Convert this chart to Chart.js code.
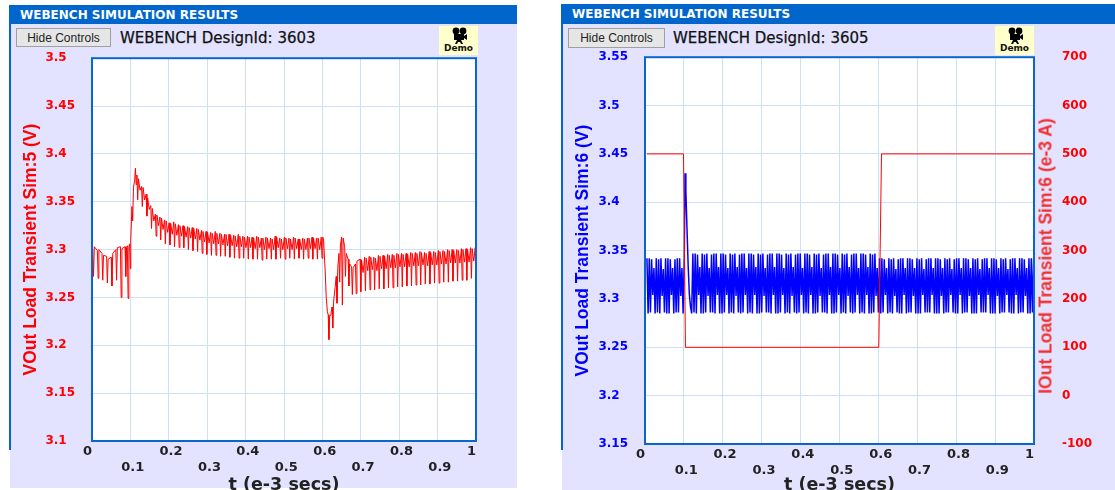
<!DOCTYPE html>
<html>
<head>
<meta charset="utf-8">
<title>WEBENCH simulation results</title>
<script src="https://cdn.jsdelivr.net/npm/chart.js@4"></script>
<style>
html, body { margin: 0; padding: 0; background: #fff; width: 1115px; height: 490px; overflow: hidden; font-family: "DejaVu Sans", sans-serif; }
.panel { position: absolute; top: 24px; height: 464px; background: #e3e3ff; overflow: hidden; }
.edge { position: absolute; top: 5px; height: 445px; width: 2px; background: #0066cc; }
.bar { position: absolute; top: 5px; height: 19px; background: #0066cc; color: #fff; font-size: 12px; font-weight: bold; line-height: 21px; padding-left: 10px; box-sizing: border-box; }
.btn { position: absolute; top: 28px; height: 19px; width: 95px; background: #e6e6e6; border: 1px solid #a0a0a0; box-sizing: border-box; font: 12px/18px "Liberation Sans", sans-serif; text-align: center; color: #222; }
.design { position: absolute; top: 29px; font-size: 15px; line-height: 18px; color: #111; -webkit-text-stroke: 0.25px #111; white-space: nowrap; }
.demo { position: absolute; top: 26px; width: 39px; height: 29px; background: #ffffcc; font-size: 9px; font-weight: bold; color: #111; text-align: center; }
.demo svg { display: block; margin: 1px auto 0; }
.demo span { display: block; line-height: 9px; }
.wrap { position: absolute; clip-path: inset(0 0 36px 0); }
.sideTitle { position: absolute; left: 1046px; top: 256px; color: #f03030; font: bold 17.5px "Liberation Sans", sans-serif; white-space: nowrap; transform: translate(-50%, -50%) rotate(-90deg); }
</style>
</head>
<body>

<div class="panel" style="left:10px;width:507px"></div>
<div class="edge" style="left:9px"></div>
<div class="bar" style="left:10px;width:507px">WEBENCH SIMULATION RESULTS</div>
<div class="btn" style="left:16px">Hide Controls</div>
<div class="design" style="left:120px">WEBENCH DesignId: 3603</div>
<div class="demo" style="left:439px"><svg width="18" height="17" viewBox="0 0 18 17"><circle cx="6" cy="4" r="3.4"/><circle cx="13" cy="4" r="3.4"/><rect x="4" y="7" width="10" height="6"/><path d="M14 9l3-2v6l-3-2zM7 13h4l2 4h-2l-1-2H8l-1 2H5z"/></svg><span>Demo</span></div>
<div class="wrap" style="left:10px;top:34px;height:492px;width:507px"><canvas id="chartA"></canvas></div>

<div class="panel" style="left:562px;width:553px;height:466px"></div>
<div class="edge" style="left:561px;top:4px;height:446px"></div>
<div class="bar" style="left:562px;width:553px;top:4px;height:20px">WEBENCH SIMULATION RESULTS</div>
<div class="btn" style="left:568px;width:97px;height:20px">Hide Controls</div>
<div class="design" style="left:673px">WEBENCH DesignId: 3605</div>
<div class="demo" style="left:995px"><svg width="18" height="17" viewBox="0 0 18 17"><circle cx="6" cy="4" r="3.4"/><circle cx="13" cy="4" r="3.4"/><rect x="4" y="7" width="10" height="6"/><path d="M14 9l3-2v6l-3-2zM7 13h4l2 4h-2l-1-2H8l-1 2H5z"/></svg><span>Demo</span></div>
<div class="wrap" style="left:562px;top:22px;height:504px;width:553px"><canvas id="chartB"></canvas></div>
<div class="sideTitle">IOut Load Transient Sim:6 (e-3 A)</div>

<script>
const xTickLabels = ['0', '0.1', '0.2', '0.3', '0.4', '0.5', '0.6', '0.7', '0.8', '0.9', '1'];

// design 3603, VOut
const timeA = [
  .002, .004, .006, .014, .016, .018, .026, .028, .030, .038, .040, .042,
  .050, .052, .054, .062, .064, .066, .074, .076, .078, .086, .088, .090,
  .092, .094, .096, .098, .100, .101, .104, .106, .108, .111, .113, .115,
  .117, .119, .121, .125,
  .129, .131, .133, .137,
  .141, .143, .145, .149,
  .153, .155, .157, .161,
  .165, .167, .169, .173,
  .177, .179, .181, .185,
  .189, .191, .193, .197,
  .201, .203, .205, .209,
  .213, .215, .217, .221,
  .225, .227, .229, .233,
  .237, .239, .241, .245,
  .249, .251, .253, .257,
  .261, .263, .265, .269,
  .273, .275, .277, .281,
  .285, .287, .289, .293,
  .297, .299, .301, .305,
  .309, .311, .313, .317,
  .321, .323, .325, .329,
  .333, .335, .337, .341,
  .345, .347, .349, .353,
  .357, .359, .361, .365,
  .369, .371, .373, .377,
  .381, .383, .385, .389,
  .393, .395, .397, .401,
  .405, .407, .409, .413,
  .417, .419, .421, .425,
  .429, .431, .433, .437,
  .441, .443, .445, .449,
  .453, .455, .457, .461,
  .465, .467, .469, .473,
  .477, .479, .481, .485,
  .489, .491, .493, .497,
  .501, .503, .505, .509,
  .513, .515, .517, .521,
  .525, .527, .529, .533,
  .537, .539, .541, .545,
  .549, .551, .553, .557,
  .561, .563, .565, .569,
  .573, .575, .577, .581,
  .585, .587, .589, .593,
  .597, .599, .601,
  .603, .607, .610, .613, .615, .617, .619, .622, .625, .627, .629, .633,
  .636, .638, .640, .643, .645, .647, .650, .652, .654, .658, .660, .662,
  .667, .669, .671, .676, .678, .680, .686, .688, .690,
  .698, .700, .702, .706,
  .710, .712, .714, .718,
  .722, .724, .726, .730,
  .734, .736, .738, .742,
  .746, .748, .750, .754,
  .758, .760, .762, .766,
  .770, .772, .774, .778,
  .782, .784, .786, .790,
  .794, .796, .798, .802,
  .806, .808, .810, .814,
  .818, .820, .822, .826,
  .830, .832, .834, .838,
  .842, .844, .846, .850,
  .854, .856, .858, .862,
  .866, .868, .870, .874,
  .878, .880, .882, .886,
  .890, .892, .894, .898,
  .902, .904, .906, .910,
  .914, .916, .918, .922,
  .926, .928, .930, .934,
  .938, .940, .942, .946,
  .950, .952, .954, .958,
  .962, .964, .966, .970,
  .974, .976, .978, .982,
  .986, .988, .990, .994,
  .998, .999, 1
];
const voutA = [
  3.3, 3.272, 3.303, 3.299, 3.27, 3.3, 3.296, 3.268, 3.294, 3.293, 3.265, 3.29,
  3.292, 3.262, 3.296, 3.3, 3.268, 3.302, 3.303, 3.25, 3.301, 3.303, 3.272, 3.302,
  3.304, 3.249, 3.303, 3.306, 3.28, 3.31, 3.345, 3.33, 3.365, 3.372, 3.385, 3.368,
  3.378, 3.352, 3.374, 3.362,
  3.366, 3.345, 3.365, 3.352,
  3.358, 3.335, 3.354, 3.342,
  3.346, 3.322, 3.343, 3.33,
  3.337, 3.314, 3.336, 3.325,
  3.334, 3.31, 3.333, 3.321,
  3.331, 3.306, 3.33, 3.318,
  3.328, 3.305, 3.327, 3.316,
  3.329, 3.303, 3.327, 3.315,
  3.326, 3.302, 3.325, 3.314,
  3.325, 3.302, 3.324, 3.313,
  3.324, 3.3, 3.323, 3.312,
  3.323, 3.299, 3.322, 3.311,
  3.322, 3.298, 3.321, 3.31,
  3.32, 3.296, 3.319, 3.308,
  3.319, 3.295, 3.318, 3.307,
  3.318, 3.294, 3.317, 3.306,
  3.319, 3.294, 3.317, 3.306,
  3.317, 3.293, 3.316, 3.305,
  3.316, 3.293, 3.316, 3.304,
  3.316, 3.292, 3.315, 3.304,
  3.315, 3.291, 3.314, 3.303,
  3.316, 3.291, 3.314, 3.303,
  3.314, 3.291, 3.313, 3.302,
  3.314, 3.29, 3.313, 3.302,
  3.313, 3.29, 3.312, 3.301,
  3.314, 3.29, 3.313, 3.302,
  3.312, 3.289, 3.312, 3.3,
  3.313, 3.29, 3.312, 3.301,
  3.312, 3.29, 3.311, 3.3,
  3.314, 3.29, 3.313, 3.302,
  3.312, 3.291, 3.311, 3.3,
  3.313, 3.29, 3.312, 3.301,
  3.312, 3.291, 3.311, 3.3,
  3.313, 3.29, 3.312, 3.301,
  3.311, 3.291, 3.311, 3.3,
  3.312, 3.29, 3.311, 3.3,
  3.312, 3.291, 3.312, 3.301,
  3.313, 3.29, 3.312, 3.301,
  3.312, 3.29, 3.312, 3.3,
  3.313, 3.291, 3.313,
  3.31, 3.28, 3.25, 3.235, 3.232, 3.206, 3.23, 3.232, 3.24, 3.218, 3.245, 3.26,
  3.272, 3.244, 3.28, 3.296, 3.266, 3.305, 3.313, 3.242, 3.312, 3.303, 3.272, 3.296,
  3.29, 3.262, 3.285, 3.282, 3.253, 3.281, 3.285, 3.254, 3.288,
  3.29, 3.256, 3.289, 3.276,
  3.292, 3.257, 3.291, 3.278,
  3.293, 3.258, 3.292, 3.279,
  3.292, 3.258, 3.291, 3.278,
  3.294, 3.259, 3.293, 3.28,
  3.294, 3.259, 3.293, 3.28,
  3.295, 3.26, 3.294, 3.281,
  3.295, 3.26, 3.294, 3.281,
  3.296, 3.261, 3.295, 3.282,
  3.296, 3.261, 3.295, 3.282,
  3.296, 3.262, 3.295, 3.282,
  3.297, 3.262, 3.296, 3.283,
  3.297, 3.263, 3.296, 3.283,
  3.298, 3.263, 3.297, 3.284,
  3.297, 3.264, 3.296, 3.283,
  3.298, 3.264, 3.297, 3.284,
  3.298, 3.265, 3.297, 3.284,
  3.299, 3.265, 3.298, 3.285,
  3.299, 3.266, 3.298, 3.285,
  3.3, 3.266, 3.299, 3.286,
  3.3, 3.267, 3.299, 3.286,
  3.3, 3.267, 3.299, 3.286,
  3.301, 3.268, 3.3, 3.287,
  3.301, 3.268, 3.3, 3.287,
  3.302, 3.27, 3.301, 3.288,
  3.302, 3.27, 3.302
];

// design 3605, VOut and IOut
const timeB = [
  .005, .008, .011, .014, .017, .020, .023, .026,
  .029, .032, .035, .038, .041, .044, .047, .050,
  .053, .056, .059, .062, .065, .068, .071, .074,
  .077, .080, .083, .086, .089, .092, .095, .098,
  .101,
  .103, .105, .108, .111, .114, .117, .120,
  .123, .126, .129, .132, .135, .138, .141, .144,
  .147, .150, .153, .156, .159, .162, .165, .168,
  .171, .174, .177, .180, .183, .186, .189, .192,
  .195, .198, .201, .204, .207, .210, .213, .216,
  .219, .222, .225, .228, .231, .234, .237, .240,
  .243, .246, .249, .252, .255, .258, .261, .264,
  .267, .270, .273, .276, .279, .282, .285, .288,
  .291, .294, .297, .300, .303, .306, .309, .312,
  .315, .318, .321, .324, .327, .330, .333, .336,
  .339, .342, .345, .348, .351, .354, .357, .360,
  .363, .366, .369, .372, .375, .378, .381, .384,
  .387, .390, .393, .396, .399, .402, .405, .408,
  .411, .414, .417, .420, .423, .426, .429, .432,
  .435, .438, .441, .444, .447, .450, .453, .456,
  .459, .462, .465, .468, .471, .474, .477, .480,
  .483, .486, .489, .492, .495, .498, .501, .504,
  .507, .510, .513, .516, .519, .522, .525, .528,
  .531, .534, .537, .540, .543, .546, .549, .552,
  .555, .558, .561, .564, .567, .570, .573, .576,
  .579, .582, .585, .588, .591, .594, .597, .600,
  .603, .606, .609, .612, .615, .618, .621, .624,
  .627, .630, .633, .636, .639, .642, .645, .648,
  .651, .654, .657, .660, .663, .666, .669, .672,
  .675, .678, .681, .684, .687, .690, .693, .696,
  .699, .702, .705, .708, .711, .714, .717, .720,
  .723, .726, .729, .732, .735, .738, .741, .744,
  .747, .750, .753, .756, .759, .762, .765, .768,
  .771, .774, .777, .780, .783, .786, .789, .792,
  .795, .798, .801, .804, .807, .810, .813, .816,
  .819, .822, .825, .828, .831, .834, .837, .840,
  .843, .846, .849, .852, .855, .858, .861, .864,
  .867, .870, .873, .876, .879, .882, .885, .888,
  .891, .894, .897, .900, .903, .906, .909, .912,
  .915, .918, .921, .924, .927, .930, .933, .936,
  .939, .942, .945, .948, .951, .954, .957, .960,
  .963, .966, .969, .972, .975, .978, .981, .984,
  .987, .990, .993, .996, .999, 1
];
const voutB = [
  3.342, 3.285, 3.342, 3.286, 3.341, 3.304, 3.332, 3.285,
  3.342, 3.286, 3.341, 3.285, 3.342, 3.303, 3.331, 3.286,
  3.342, 3.285, 3.342, 3.285, 3.341, 3.304, 3.332, 3.285,
  3.341, 3.286, 3.342, 3.286, 3.342, 3.303, 3.332, 3.285,
  3.342,
  3.43, 3.412, 3.372, 3.334, 3.305, 3.292, 3.285,
  3.347, 3.286, 3.347, 3.285, 3.346, 3.304, 3.333, 3.285,
  3.347, 3.285, 3.346, 3.286, 3.347, 3.303, 3.332, 3.286,
  3.346, 3.286, 3.347, 3.285, 3.347, 3.304, 3.333, 3.285,
  3.347, 3.285, 3.347, 3.286, 3.346, 3.304, 3.332, 3.285,
  3.347, 3.286, 3.346, 3.285, 3.347, 3.303, 3.333, 3.286,
  3.346, 3.285, 3.347, 3.286, 3.347, 3.304, 3.332, 3.285,
  3.347, 3.286, 3.347, 3.285, 3.346, 3.304, 3.333, 3.285,
  3.347, 3.285, 3.346, 3.286, 3.347, 3.303, 3.332, 3.286,
  3.346, 3.286, 3.347, 3.285, 3.347, 3.304, 3.333, 3.285,
  3.347, 3.285, 3.347, 3.286, 3.346, 3.304, 3.332, 3.285,
  3.347, 3.286, 3.346, 3.285, 3.347, 3.303, 3.333, 3.286,
  3.346, 3.285, 3.347, 3.286, 3.347, 3.304, 3.332, 3.285,
  3.347, 3.286, 3.347, 3.285, 3.346, 3.304, 3.333, 3.285,
  3.347, 3.285, 3.346, 3.286, 3.347, 3.303, 3.332, 3.286,
  3.346, 3.286, 3.347, 3.285, 3.347, 3.304, 3.333, 3.285,
  3.347, 3.285, 3.347, 3.286, 3.346, 3.304, 3.332, 3.285,
  3.347, 3.286, 3.346, 3.285, 3.347, 3.303, 3.333, 3.286,
  3.346, 3.285, 3.347, 3.286, 3.347, 3.304, 3.332, 3.285,
  3.347, 3.286, 3.347, 3.285, 3.346, 3.304, 3.333, 3.285,
  3.347, 3.285, 3.346, 3.286, 3.347, 3.303, 3.332, 3.286,
  3.342, 3.285, 3.342, 3.286, 3.341, 3.304, 3.332, 3.285,
  3.342, 3.286, 3.341, 3.285, 3.342, 3.303, 3.331, 3.286,
  3.341, 3.285, 3.342, 3.285, 3.342, 3.304, 3.332, 3.285,
  3.342, 3.286, 3.342, 3.286, 3.341, 3.303, 3.332, 3.285,
  3.342, 3.285, 3.341, 3.285, 3.342, 3.304, 3.331, 3.286,
  3.341, 3.286, 3.342, 3.286, 3.342, 3.304, 3.332, 3.285,
  3.342, 3.285, 3.342, 3.285, 3.341, 3.303, 3.332, 3.285,
  3.342, 3.286, 3.341, 3.286, 3.342, 3.304, 3.331, 3.286,
  3.341, 3.285, 3.342, 3.285, 3.342, 3.304, 3.332, 3.285,
  3.342, 3.286, 3.342, 3.286, 3.341, 3.303, 3.332, 3.285,
  3.342, 3.285, 3.341, 3.285, 3.342, 3.304, 3.331, 3.286,
  3.341, 3.286, 3.342, 3.286, 3.342, 3.304, 3.332, 3.285,
  3.342, 3.285, 3.342, 3.285, 3.341, 3.303, 3.332, 3.285,
  3.342, 3.286, 3.341, 3.286, 3.342, 3.304, 3.331, 3.286,
  3.341, 3.285, 3.342, 3.285, 3.342, 3.304, 3.332, 3.285,
  3.342, 3.286, 3.342, 3.286, 3.341, 3.303, 3.332, 3.285,
  3.342, 3.285, 3.342, 3.286, 3.342, 3.304
];
const timeI = [.005, .099, .104, .601, .608, 1];
const ioutB = [500, 500, 100, 100, 500, 500];

const RED = '#ff0000';
const BLUE = '#0000ff';
const GRID = '#cfe0f6';
const FRAME = '#0a66cc';
const tickFont = { family: 'DejaVu Sans', size: 12, weight: 'bold' };
const titleFont = { family: 'Liberation Sans', size: 17.5, weight: 'bold' };

const pts = (xs, ys) => xs.map((x, i) => ({ x: x, y: ys[i] }));

// white plot background and the blue frame round it
const plotFrame = {
  id: 'plotFrame',
  beforeDraw(chart) {
    const a = chart.chartArea, c = chart.ctx;
    c.save();
    c.fillStyle = '#fff';
    c.fillRect(a.left, a.top, a.width, a.height);
    c.restore();
  },
  afterDraw(chart) {
    const a = chart.chartArea, c = chart.ctx;
    c.save();
    c.strokeStyle = FRAME;
    c.lineWidth = 2;
    c.strokeRect(a.left, a.top, a.width, a.height);
    c.restore();
  }
};

// x labels sit on two rows, odd tenths on the lower one
function xScale(height) {
  return {
    type: 'linear', min: 0, max: 1,
    afterFit(s) { s.height = height; },
    grid: { color: GRID, drawTicks: false },
    border: { display: false },
    ticks: {
      stepSize: 0.1, autoSkip: false, maxRotation: 0, padding: 3, color: '#222',
      font: { family: 'DejaVu Sans', size: 13, weight: 'bold' },
      callback(v, i) {
        const t = xTickLabels[i];
        if (i === 0 || i === 10) return t + '\u00a0\u00a0';
        return i % 2 ? ['', '\u00a0' + t] : '\u00a0' + t;
      }
    },
    title: { display: true, text: 't (e-3 secs)', color: '#222', font: { family: 'DejaVu Sans', size: 17.5, weight: 'bold' }, padding: { top: 0, bottom: 30 } }
  };
}

function vScale(width, min, max, color, title, labelPad) {
  return {
    type: 'linear', position: 'left', min: min, max: max,
    afterFit(s) { s.width = width; },
    grid: { color: GRID, drawTicks: false },
    border: { display: false },
    ticks: {
      stepSize: 0.05, padding: labelPad, color: color, font: tickFont,
      // figure space keeps the short labels flush left, as in the original
      callback(v) { const s = String(+v.toFixed(2)); return s.length < 4 ? s + '\u2007' : s; }
    },
    title: { display: true, text: title, color: color, font: titleFont, padding: { top: 11, bottom: 0 } }
  };
}

Chart.defaults.animation = false;

new Chart(document.getElementById('chartA'), {
  type: 'line',
  data: { datasets: [{ label: 'VOut', data: pts(timeA, voutA), borderColor: RED, borderWidth: 1, pointRadius: 0, tension: 0 }] },
  options: {
    responsive: true, maintainAspectRatio: false,
    layout: { autoPadding: false, padding: { left: 0, right: 41, top: 0, bottom: 0 } },
    plugins: { legend: { display: false }, tooltip: { enabled: false } },
    scales: { x: xScale(85), y: vScale(82, 3.1, 3.5, RED, 'VOut Load Transient Sim:5 (V)', 17) }
  },
  plugins: [plotFrame]
});

new Chart(document.getElementById('chartB'), {
  type: 'line',
  data: {
    datasets: [
      { label: 'VOut', data: pts(timeB, voutB), borderColor: BLUE, borderWidth: 1.5, pointRadius: 0, tension: 0, yAxisID: 'y', order: 2 },
      { label: 'IOut', data: pts(timeI, ioutB), borderColor: RED, borderWidth: 1, pointRadius: 0, tension: 0, yAxisID: 'y1', order: 1 }
    ]
  },
  options: {
    responsive: true, maintainAspectRatio: false,
    layout: { autoPadding: false, padding: { left: 0, right: 0, top: 0, bottom: 0 } },
    plugins: { legend: { display: false }, tooltip: { enabled: false } },
    scales: {
      x: xScale(82),
      y: vScale(83, 3.15, 3.55, BLUE, 'VOut Load Transient Sim:6 (V)', 17),
      y1: {
        type: 'linear', position: 'right', min: -100, max: 700,
        afterFit(s) { s.width = 81; },
        grid: { drawOnChartArea: false, drawTicks: false },
        border: { display: false },
        ticks: { stepSize: 100, padding: 28, color: RED, font: tickFont }
      }
    }
  },
  plugins: [plotFrame]
});
</script>
</body>
</html>
